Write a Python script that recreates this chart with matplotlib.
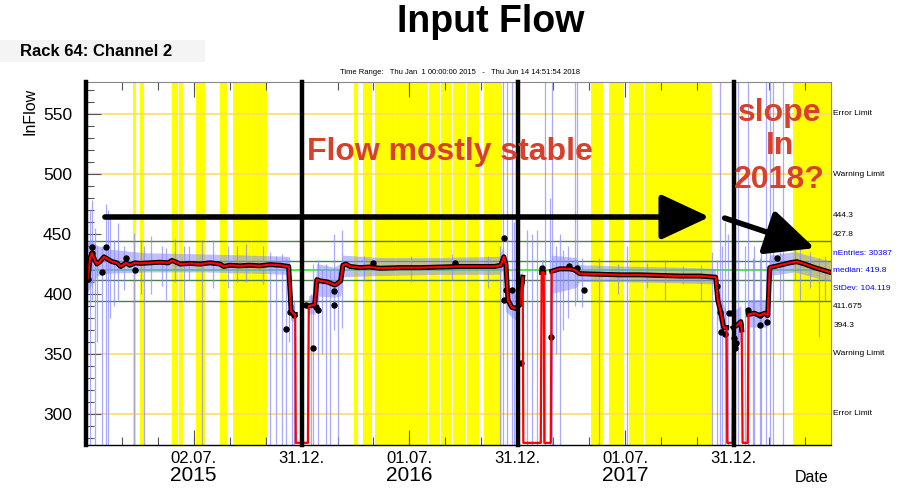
import datetime as dt
import numpy as np
import matplotlib
matplotlib.use("Agg")
import matplotlib.pyplot as plt
import matplotlib.dates as mdates
from matplotlib.patches import Rectangle

plt.rcParams['font.family'] = ['Liberation Sans', 'DejaVu Sans']

# ---------------- data (x values are days since 2015-01-01) ----------------
START = dt.datetime(2015, 1, 1)
END = dt.datetime(2018, 6, 14, 14, 51, 54)

red_days = [0, 3.4, 6.8, 10, 15, 18.6, 23.7, 30.4, 37, 44, 52, 59, 67.7, 74, 83, 91,
            108, 125, 139, 145.5, 150.5, 159, 176, 193, 210, 226.6, 233, 243.5, 260,
            277, 294, 311, 328, 343, 347, 352, 354, 355, 375.5, 377, 387, 390.7, 396,
            409, 421, 426, 431, 434.7, 440, 446.5, 463, 480, 497, 531, 565, 599, 632.5,
            666, 692, 702, 707, 710.5, 714, 720.5, 727, 734, 739, 740, 769.5, 771,
            774.6, 775.5, 786.5, 788, 801.7, 818.6, 827, 835.5, 869, 903, 937, 971,
            1005, 1038.6, 1065.5, 1069, 1074, 1079, 1084, 1085, 1094, 1095, 1101.5,
            1108, 1109.5, 1111, 1119.7, 1121, 1131, 1140, 1148, 1153.5, 1157, 1174,
            1190.6, 1202.5, 1216, 1233, 1250, 1260]
red_vals = [412, 413, 430, 434, 428, 425, 427, 431, 429, 427, 426, 423, 426, 424, 426, 425.5,
            426, 426.5, 426, 428, 427, 425, 425.5, 425, 426, 425, 423, 424, 423.5,
            424, 423.5, 424.5, 424, 423, 386, 383, 383, 276, 276, 390, 391, 412, 411,
            410, 407.5, 409, 411, 424, 425, 423, 422, 422.5, 421.5, 422, 422, 422.5, 423,
            423, 423, 424, 431, 425, 395, 389, 388, 391, 414, 276, 276, 418,
            418, 276, 276, 419, 421, 421, 420, 417, 416.5, 416, 416, 415.5,
            415, 415, 414, 395, 385, 372, 372, 276, 276, 372, 374,
            377, 370, 276, 276, 383, 384, 382, 384, 382, 422, 424,
            426, 427, 425, 422, 419.5, 418]

dot_days = [3.4, 10, 10.5, 27, 33.5, 67.7, 83, 338, 346, 352, 372, 384, 390, 393, 419,
            419.5, 486, 625, 707, 708, 711, 720.5, 736, 735.5, 771, 787, 818, 830, 842,
            1068.5, 1072.5, 1075, 1081, 1087.5, 1093.5, 1096, 1100.5, 1098, 1106, 1120,
            1140, 1140.5, 1152, 1169]
dot_vals = [412.5, 434, 439.4, 418.6, 439.4, 430, 420, 371, 385.3, 382.5, 391, 355.3,
            389.4, 386.7, 391, 402.8, 425.8, 426, 446.4, 395, 403, 403, 342.5, 410, 421.4,
            363.9, 423.3, 421.4, 403.3, 406.7, 385.3, 368.6, 367, 383.9, 383.9, 363,
            358.9, 354.7, 375, 386.7, 382.5, 374, 377, 429.7]

band_days = [0, 8, 20, 40, 100, 200, 280, 343, 347, 353, 355, 376, 377, 388, 391, 420, 432,
             435, 500, 600, 700, 707, 711, 727, 739, 740, 770, 771, 775, 776, 787, 788, 830,
             836, 900, 1000, 1065, 1069, 1084, 1085, 1094, 1095, 1109, 1110, 1120, 1121,
             1153, 1157, 1200, 1260]
band_lo = [398, 405, 415, 417, 418, 418, 417, 416, 378, 376, np.nan, np.nan, 383, 383, 398,
           397, 398, 414, 415, 416, 416, 420, 385, 378, 395, np.nan, np.nan, 405, 405,
           np.nan, np.nan, 400, 405, 410, 410, 409, 408, 380, 360, np.nan, np.nan, 355,
           360, np.nan, np.nan, 372, 372, 415, 418, 410]
band_hi = [440, 445, 440, 437, 434, 433, 432, 431, 392, 390, np.nan, np.nan, 398, 400, 425,
           422, 425, 432, 430, 430, 431, 440, 405, 400, 420, np.nan, np.nan, 428, 428,
           np.nan, np.nan, 432, 430, 424, 423, 422, 421, 405, 385, np.nan, np.nan, 385,
           390, np.nan, np.nan, 395, 395, 432, 435, 427]

spike_days = [6.8, 10, 15, 18.6, 27, 33.8, 37, 40.6, 47, 54, 64, 81, 93, 98, 110, 128.5,
              135, 150, 165.7, 175, 196, 215, 240, 255, 270, 300, 311, 321, 331.5, 338,
              343, 348, 352, 380, 384, 392, 399, 406, 413, 419, 426, 433, 470, 550, 620,
              680, 700, 705, 712, 720, 724, 746, 754, 763, 776, 785, 788, 795, 802, 807,
              815, 827, 830, 839, 867.6, 900, 915, 950, 979, 1010, 1040, 1060, 1067, 1072,
              1077, 1082, 1086, 1103, 1115, 1120, 1128, 1131, 1140, 1143, 1150, 1157,
              1162, 1174, 1180, 1200, 1208, 1225, 1241, 1250]
spike_lo = [270, 395, 270, 360, 270, 270, 270, 380, 390, 395, 403, 270, 400, 270, 400, 407,
            395, 410, 393, 412, 270, 405, 405, 410, 410, 408, 270, 270, 270, 270,
            360, 270, 270, 270, 270, 270, 350, 270, 270, 370, 270, 372, 412, 410, 412,
            405, 270, 270, 270, 270, 270, 270, 270, 270, 270, 270, 270, 350, 270, 370,
            380, 390, 395, 389, 270, 400, 270, 405, 395, 408, 395, 270, 270, 270,
            270, 270, 270, 270, 270, 270, 270, 270, 270, 270, 270, 270,
            270, 395, 270, 412, 395, 405, 364, 395]
spike_hi = [470, 478, 455, 440, 440, 475, 470, 465, 445, 459, 440, 451, 445, 440, 448, 440,
            438, 446, 440, 440, 445, 445, 440, 440, 442, 440, 435, 432, 433, 430,
            431, 392, 395, 400, 425, 428, 420, 425, 420, 450, 420, 453, 432, 432, 433,
            432, 440, 580, 580, 580, 460, 453, 450, 453, 580, 480, 580, 440, 450, 437,
            440, 580, 580, 430, 430, 425, 440, 426, 428, 423, 424, 435, 428, 580,
            440, 460, 450, 580, 440, 580, 430, 440, 430, 440, 580, 580,
            580, 440, 580, 440, 440, 435, 430, 432]

yellow_bands = [(79.5, 84.6), (91.3, 98), (145.5, 155.6), (157, 164), (186, 201),
                (226.6, 238.5), (248.6, 279), (280.8, 306), (453, 460), (468.5, 483.7),
                (488.8, 522.6), (524, 578.4), (580, 598.7), (600.4, 619), (620.7, 642.7),
                (644.4, 664.7), (673, 703.6), (854, 874.4), (884.6, 910), (918.4, 943.8),
                (945.4, 1059), (1195.7, 1260)]

year_line_days = [0, 365, 731, 1096]

limit_vals = [550, 500, 350, 300]
stat_vals = [444.3, 427.8, 411.675, 394.3]
median_val = 419.8

right_labels = [("Error Limit", 550.8, 'black'), ("Warning Limit", 500, 'black'),
                ("444.3", 465.8, 'black'), ("427.8", 450, 'black'),
                ("nEntries: 30387", 434.2, 'blue'), ("median: 419.8", 420, 'blue'),
                ("StDev: 104.119", 405, 'blue'), ("411.675", 390, 'black'),
                ("394.3", 374.2, 'black'), ("Warning Limit", 350.8, 'black'),
                ("Error Limit", 300.8, 'black')]

major_tick_dates = [dt.datetime(2015, 7, 2), dt.datetime(2015, 12, 31), dt.datetime(2016, 7, 1),
                    dt.datetime(2016, 12, 31), dt.datetime(2017, 7, 1), dt.datetime(2017, 12, 31)]
major_tick_labels = ["02.07.", "31.12.", "01.07.", "31.12.", "01.07.", "31.12."]
year_labels = [("2015", dt.datetime(2015, 7, 2)), ("2016", dt.datetime(2016, 7, 1)),
               ("2017", dt.datetime(2017, 7, 1))]

# ---------------- plotting ----------------
t0 = mdates.date2num(START)


def X(days):
    return t0 + np.asarray(days, dtype=float)


fig = plt.figure(figsize=(9.02, 4.88), dpi=100)
ax = fig.add_axes([86 / 902, 1 - 445 / 488, 745 / 902, 363 / 488])
ax.set_xlim(t0, mdates.date2num(END))
ax.set_ylim(274.2, 576.7)

for s, e in yellow_bands:
    ax.axvspan(X(s), X(e), color='#ffff00', lw=0, zorder=0)

for v in limit_vals:
    ax.axhline(v, color='#ffdd66', lw=1.2, zorder=1)
for v in stat_vals:
    ax.axhline(v, color='#4f7f4f', lw=1.0, zorder=1)
ax.axhline(median_val, color='#22ee22', lw=1.2, zorder=1)

ax.fill_between(X(band_days), band_lo, band_hi, color='#8c8cff', alpha=0.55, lw=0, zorder=2)
ax.vlines(X(spike_days), spike_lo, spike_hi, color='#8c8cff', lw=0.9, alpha=0.75, zorder=2)

rv = np.array(red_vals, dtype=float)
ax.plot(X(red_days), np.where(rv > 280, rv, np.nan), color='black', lw=3.6, zorder=3)
ax.plot(X(dot_days), dot_vals, 'o', color='black', ms=3.6, zorder=3)
ax.plot(X(red_days), rv, color='#ff0000', lw=1.6, zorder=4)

for d in year_line_days:
    ax.axvline(X(d), color='black', lw=3.2, zorder=5, clip_on=False)

arrow_kw = dict(arrowstyle='-|>,head_length=1.5,head_width=0.7', mutation_scale=20,
                lw=4, color='black', shrinkA=0, shrinkB=0)
ax.annotate('', xy=(X(1055), 464.2), xytext=(X(32), 464.2), arrowprops=arrow_kw, zorder=6)
ax.annotate('', xy=(X(1233), 438.3), xytext=(X(1080.7), 463.3), arrowprops=arrow_kw, zorder=6)

ax.text(X(615.6), 518.3, 'Flow mostly stable', color='#d8402b', fontsize=23,
        fontweight='bold', ha='center', va='center', zorder=7)
ax.text(X(1173.8), 523.3, 'slope\nIn\n2018?', color='#d8402b', fontsize=23,
        fontweight='bold', ha='center', va='center', linespacing=1.15, zorder=7)

ytr = ax.get_yaxis_transform()
for txt, yv, col in right_labels:
    ax.text(1.003, yv, txt, transform=ytr, color=col, fontsize=6, ha='left', va='center',
            clip_on=False)

# axes styling
for sp in ['top', 'right']:
    ax.spines[sp].set_color('#888888')
    ax.spines[sp].set_linewidth(0.8)
ax.spines['left'].set_visible(False)
ax.spines['bottom'].set_linewidth(1.0)

ax.set_yticks([300, 350, 400, 450, 500, 550])
ax.set_yticks(np.arange(280, 580, 10), minor=True)
ax.set_xticks([mdates.date2num(d) for d in major_tick_dates])
ax.set_xticklabels(major_tick_labels)
ax.set_xticks(X(np.arange(60.8, 1260, 60.8)), minor=True)
ax.tick_params(axis='both', which='both', direction='in', top=True, right=False,
               color='#555555')
ax.tick_params(axis='both', which='major', length=11, width=0.8)
ax.tick_params(axis='both', which='minor', length=6, width=0.8)
ax.tick_params(axis='y', which='major', labelsize=12.5, pad=10)
ax.tick_params(axis='x', which='major', labelsize=12, pad=4)

xtr = ax.get_xaxis_transform()
for txt, d in year_labels:
    ax.text(mdates.date2num(d), -0.083, txt, transform=xtr, fontsize=15, ha='center',
            va='center', clip_on=False)

fig.text(812 / 902, 1 - 477 / 488, 'Date', fontsize=11.5, ha='center', va='center')
fig.text(30 / 902, 1 - 111 / 488, 'InFlow', fontsize=11.5, rotation=90, ha='center',
         va='center')

fig.patches.append(Rectangle((0, 1 - 62 / 488), 205 / 902, 22 / 488, transform=fig.transFigure,
                             facecolor='#f4f4f4', edgecolor='none', zorder=0))
fig.text(20 / 902, 1 - 52 / 488, 'Rack 64: Channel 2', fontsize=12, fontweight='bold',
         ha='left', va='center')
fig.text(491 / 902, 1 - 22 / 488, 'Input Flow', fontsize=27, fontweight='bold',
         ha='center', va='center')
fig.text(460 / 902, 1 - 72 / 488,
         'Time Range:   Thu Jan  1 00:00:00 2015   -   Thu Jun 14 14:51:54 2018',
         fontsize=5.5, ha='center', va='center')

fig.savefig('out.png', dpi=100)
